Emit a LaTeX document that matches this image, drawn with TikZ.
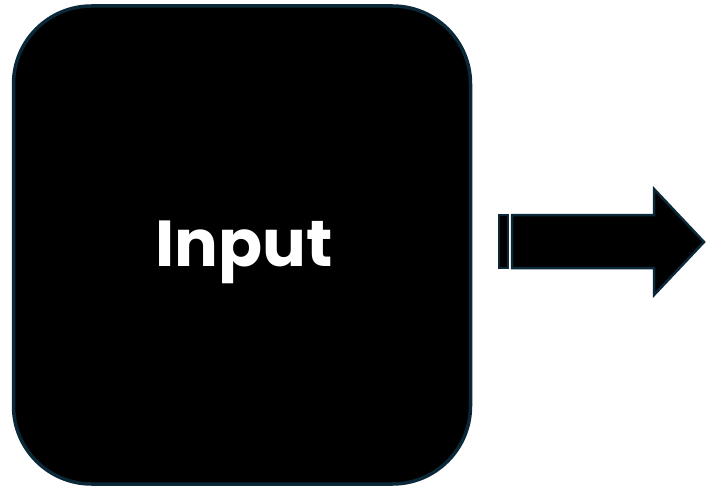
\documentclass[tikz,border=0pt]{standalone}
\usepackage{fontspec}
\setmainfont{Poppins}
\usetikzlibrary{positioning}
\definecolor{pnavy}{HTML}{0B2838}
\definecolor{pblack}{HTML}{000000}

\begin{document}
\begin{tikzpicture}[
    x=1pt, y=-1pt,
    block/.style={rectangle, draw=pnavy, fill=pblack, line width=3.5pt, rounded corners=78pt, minimum width=457pt, minimum height=478pt},
    label/.style={text=white, font=\fontsize{65}{78}\selectfont\bfseries},
    arrowbody/.style={draw=pnavy, fill=pblack, line width=2.5pt, line join=miter}
]
    \useasboundingbox (0,0) rectangle (706,489);

    % Input block
    \node[block] (input) at (242,245) {};
    \node[label] (inputtext) at (244,252) {Input};

    % Striped arrow
    \draw[arrowbody] (499,215) rectangle (508,268);
    \draw[arrowbody] (512,215) -- (654,215) -- (654,189) -- (704,242)
        -- (654,295) -- (654,268) -- (512,268) -- cycle;

\end{tikzpicture}
\end{document}
